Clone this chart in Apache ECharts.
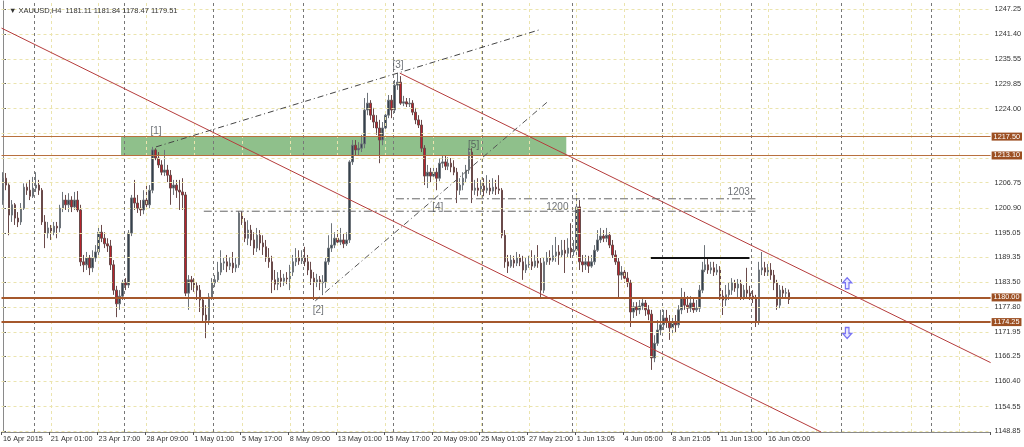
<!DOCTYPE html>
<html><head><meta charset="utf-8">
<script src="https://cdn.jsdelivr.net/npm/echarts@6/dist/echarts.min.js"></script>
<style>html,body{margin:0;padding:0;background:#fff}#c{width:1024px;height:447px}</style>
</head><body><div id="c"></div>
<script>
const opens = [
1202.7,1207.8,1206.2,1199.2,1201.6,1198.5,1197.6,1200.8,1205.7,1205.0,
1203.6,1205.5,1206.2,1205.0,1197.6,1195.0,1196.2,1195.2,1196.6,1196.2,
1200.8,1202.7,1201.6,1202.7,1201.1,1202.7,1200.4,1188.3,1187.6,1189.2,
1186.9,1189.2,1190.6,1195.2,1193.8,1192.5,1192.0,1187.6,1181.7,1178.5,
1180.3,1183.4,1182.9,1195.0,1203.2,1202.0,1200.8,1200.4,1202.7,1201.6,
1205.0,1214.4,1212.5,1210.9,1209.2,1209.7,1208.5,1205.5,1206.2,1205.0,
1204.6,1203.9,1181.0,1184.1,1183.6,1182.7,1181.7,1179.4,1175.9,1174.7,
1180.1,1183.4,1184.1,1185.9,1188.0,1188.3,1187.3,1188.0,1186.9,1187.6,
1199.7,1197.6,1193.8,1195.7,1193.4,1191.5,1194.5,1192.7,1191.8,1189.2,
1188.3,1184.1,1183.1,1184.5,1183.8,1184.5,1184.3,1185.9,1188.3,1189.2,
1188.5,1189.2,1188.3,1186.4,1184.5,1183.6,1184.1,1183.4,1183.6,1188.3,
1191.5,1192.2,1193.8,1192.9,1193.4,1192.5,1193.4,1211.6,1215.5,1214.4,
1214.8,1215.8,1223.7,1225.3,1222.5,1220.9,1219.5,1216.7,1219.5,1222.5,
1226.0,1223.7,1229.5,1230.2,1225.3,1225.6,1225.1,1225.3,1223.2,1221.4,
1220.2,1214.8,1208.3,1209.2,1208.3,1209.2,1207.8,1211.3,1211.6,1210.6,
1211.3,1210.4,1209.2,1205.0,1206.2,1207.8,1209.7,1213.9,1205.0,1205.5,
1205.0,1206.0,1205.0,1205.5,1204.8,1205.7,1205.3,1205.0,1194.5,1188.3,
1187.3,1188.7,1188.0,1189.2,1188.3,1186.4,1187.6,1188.3,1187.3,1188.5,
1188.0,1181.7,1188.3,1189.2,1188.7,1189.7,1190.6,1189.9,1191.0,1190.3,
1191.5,1190.6,1191.0,1201.1,1188.3,1187.6,1188.3,1187.3,1188.3,1191.0,
1193.4,1194.3,1193.8,1194.5,1192.2,1189.9,1188.3,1185.2,1185.9,1184.5,
1183.4,1176.6,1177.8,1177.1,1178.0,1178.7,1177.1,1176.1,1165.9,1169.3,
1172.4,1173.6,1175.2,1174.3,1172.9,1174.3,1173.6,1177.1,1179.9,1178.2,
1177.5,1178.7,1177.1,1177.5,1181.7,1186.4,1187.6,1186.4,1186.9,1185.9,
1186.4,1180.3,1179.4,1180.6,1181.7,1183.4,1182.2,1183.1,1180.1,1181.7,
1181.0,1180.3,1179.9,1174.3,1186.4,1186.9,1185.9,1186.4,1185.2,1183.4,
1178.2,1181.7,1181.0,1181.11];
const closes = [
1207.8,1206.2,1199.2,1201.6,1198.5,1197.6,1200.8,1205.7,1205.0,1203.6,
1205.5,1206.2,1205.0,1197.6,1195.0,1196.2,1195.2,1196.6,1196.2,1200.8,
1202.7,1201.6,1202.7,1201.1,1202.7,1200.4,1188.3,1187.6,1189.2,1186.9,
1189.2,1190.6,1195.2,1193.8,1192.5,1192.0,1187.6,1181.7,1178.5,1180.3,
1183.4,1182.9,1195.0,1203.2,1202.0,1200.8,1200.4,1202.7,1201.6,1205.0,
1214.4,1212.5,1210.9,1209.2,1209.7,1208.5,1205.5,1206.2,1205.0,1204.6,
1203.9,1181.0,1184.1,1183.6,1182.7,1181.7,1179.4,1175.9,1174.7,1180.1,
1183.4,1184.1,1185.9,1188.0,1188.3,1187.3,1188.0,1186.9,1187.6,1199.7,
1197.6,1193.8,1195.7,1193.4,1191.5,1194.5,1192.7,1191.8,1189.2,1188.3,
1184.1,1183.1,1184.5,1183.8,1184.5,1184.3,1185.9,1188.3,1189.2,1188.5,
1189.2,1188.3,1186.4,1184.5,1183.6,1184.1,1183.4,1183.6,1188.3,1191.5,
1192.2,1193.8,1192.9,1193.4,1192.5,1193.4,1211.6,1215.5,1214.4,1214.8,
1215.8,1223.7,1225.3,1222.5,1220.9,1219.5,1216.7,1219.5,1222.5,1226.0,
1223.7,1229.5,1230.2,1225.3,1225.6,1225.1,1225.3,1223.2,1221.4,1220.2,
1214.8,1208.3,1209.2,1208.3,1209.2,1207.8,1211.3,1211.6,1210.6,1211.3,
1210.4,1209.2,1205.0,1206.2,1207.8,1209.7,1213.9,1205.0,1205.5,1205.0,
1206.0,1205.0,1205.5,1204.8,1205.7,1205.3,1205.0,1194.5,1188.3,1187.3,
1188.7,1188.0,1189.2,1188.3,1186.4,1187.6,1188.3,1187.3,1188.5,1188.0,
1181.7,1188.3,1189.2,1188.7,1189.7,1190.6,1189.9,1191.0,1190.3,1191.5,
1190.6,1191.0,1201.1,1188.3,1187.6,1188.3,1187.3,1188.3,1191.0,1193.4,
1194.3,1193.8,1194.5,1192.2,1189.9,1188.3,1185.2,1185.9,1184.5,1183.4,
1176.6,1177.8,1177.1,1178.0,1178.7,1177.1,1176.1,1165.9,1169.3,1172.4,
1173.6,1175.2,1174.3,1172.9,1174.3,1173.6,1177.1,1179.9,1178.2,1177.5,
1178.7,1177.1,1177.5,1181.7,1186.4,1187.6,1186.4,1186.9,1185.9,1186.4,
1180.3,1179.4,1180.6,1181.7,1183.4,1182.2,1183.1,1180.1,1181.7,1181.0,
1180.3,1179.9,1174.3,1186.4,1186.9,1185.9,1186.4,1185.2,1183.4,1178.2,
1181.7,1181.0,1181.1,1179.51];
const lows = [
1201.6,1205.0,1194.5,1197.6,1196.9,1196.4,1196.9,1200.4,1203.9,1202.7,
1203.2,1204.6,1203.9,1196.9,1191.5,1193.8,1193.4,1194.5,1193.8,1195.2,
1199.9,1200.4,1199.9,1199.9,1200.4,1199.9,1187.3,1185.9,1186.4,1185.2,
1185.9,1188.3,1189.9,1192.9,1191.5,1190.6,1186.4,1180.6,1175.4,1177.1,
1179.4,1181.7,1182.2,1194.3,1200.4,1199.7,1199.0,1199.4,1200.4,1200.8,
1204.3,1212.0,1210.2,1208.5,1208.3,1206.9,1201.6,1203.9,1203.2,1200.4,
1200.4,1180.3,1177.1,1181.7,1181.3,1179.4,1176.6,1174.3,1170.5,1173.6,
1179.4,1182.4,1183.6,1185.2,1186.4,1185.9,1186.4,1185.7,1185.9,1186.9,
1196.9,1192.9,1192.2,1192.0,1189.9,1190.6,1191.0,1189.9,1188.3,1186.9,
1181.0,1181.7,1181.7,1182.4,1182.7,1183.1,1181.7,1185.0,1187.3,1187.6,
1187.8,1187.3,1185.2,1182.9,1179.4,1182.4,1181.7,1180.6,1182.2,1187.6,
1190.6,1191.5,1192.0,1192.2,1191.5,1192.0,1192.7,1210.9,1213.0,1213.0,
1213.9,1214.8,1222.5,1221.4,1219.5,1217.9,1211.3,1215.5,1218.6,1221.8,
1221.8,1223.0,1228.4,1224.9,1224.6,1224.4,1224.4,1222.5,1220.4,1219.5,
1213.9,1206.2,1205.5,1206.9,1207.4,1205.0,1207.1,1210.2,1209.7,1209.7,
1209.2,1208.5,1202.0,1203.9,1205.0,1206.9,1208.8,1202.0,1203.9,1203.6,
1203.9,1203.6,1204.3,1203.9,1204.1,1203.9,1204.1,1193.8,1186.9,1185.7,
1186.9,1186.9,1187.3,1187.3,1184.1,1185.7,1186.9,1186.4,1186.9,1186.9,
1180.1,1181.0,1187.6,1187.6,1188.3,1188.3,1187.6,1189.2,1185.7,1189.2,
1189.2,1189.7,1189.2,1186.4,1185.9,1186.4,1185.7,1186.9,1187.6,1190.6,
1192.7,1192.9,1192.9,1191.5,1189.2,1187.6,1180.1,1184.1,1183.4,1182.4,
1173.1,1175.2,1175.7,1176.1,1177.1,1175.7,1174.7,1163.1,1164.9,1168.7,
1171.2,1172.4,1172.9,1170.1,1171.5,1171.9,1172.9,1176.1,1177.1,1176.4,
1176.6,1176.4,1176.6,1176.6,1181.0,1185.9,1185.5,1185.5,1185.0,1185.2,
1179.4,1175.9,1178.0,1179.4,1180.6,1181.3,1180.1,1179.4,1179.4,1179.9,
1179.4,1178.7,1173.1,1173.6,1185.2,1185.0,1185.0,1184.1,1181.7,1177.1,
1177.5,1179.9,1179.9,1178.47];
const highs = [
1209.2,1209.0,1206.6,1202.7,1202.0,1199.9,1202.0,1206.6,1206.6,1207.4,
1208.1,1209.2,1207.4,1205.5,1199.2,1197.6,1196.9,1197.6,1197.6,1201.6,
1204.6,1203.9,1204.3,1203.6,1204.6,1204.8,1201.6,1189.9,1190.6,1189.9,
1191.0,1192.2,1196.2,1196.9,1195.2,1193.8,1193.4,1188.7,1182.7,1181.7,
1184.1,1184.5,1195.7,1203.9,1207.4,1203.9,1202.7,1205.0,1206.9,1206.2,
1215.1,1214.8,1213.9,1212.0,1214.4,1210.9,1209.7,1207.4,1207.4,1207.4,
1207.8,1204.6,1185.2,1185.0,1184.5,1183.6,1182.9,1180.1,1178.2,1181.0,
1184.5,1185.2,1188.3,1191.0,1189.2,1189.9,1189.4,1190.6,1189.2,1200.1,
1200.1,1198.5,1198.0,1196.9,1195.2,1196.2,1195.7,1194.5,1193.4,1191.5,
1189.7,1186.4,1185.9,1186.4,1185.5,1185.9,1187.6,1189.9,1191.5,1191.0,
1191.0,1191.8,1189.9,1188.3,1185.9,1185.5,1185.0,1185.2,1189.2,1194.5,
1197.3,1195.2,1195.7,1196.2,1194.8,1195.2,1212.0,1216.7,1216.7,1216.2,
1217.9,1226.5,1227.7,1226.0,1224.2,1222.5,1221.4,1220.9,1223.2,1227.2,
1227.2,1230.7,1232.3,1231.6,1227.0,1226.5,1226.5,1226.0,1224.2,1222.5,
1221.4,1215.5,1210.9,1210.2,1210.9,1210.2,1212.5,1213.2,1213.0,1212.7,
1212.5,1212.0,1210.2,1207.8,1209.2,1210.9,1214.8,1214.8,1207.4,1207.8,
1207.4,1207.8,1208.5,1207.4,1207.8,1207.4,1208.5,1205.5,1195.7,1189.9,
1189.9,1189.7,1190.6,1190.1,1189.7,1189.2,1189.7,1191.0,1189.9,1192.2,
1189.2,1189.2,1190.6,1191.0,1192.2,1194.1,1192.2,1193.4,1193.4,1193.8,
1197.3,1193.4,1204.3,1202.7,1189.9,1189.9,1189.7,1189.9,1192.2,1195.7,
1196.2,1195.7,1196.2,1195.2,1193.4,1191.0,1189.2,1187.3,1186.9,1185.9,
1184.1,1178.9,1178.9,1179.4,1179.9,1179.4,1178.2,1177.1,1171.2,1174.7,
1177.1,1177.1,1177.1,1175.9,1175.7,1175.9,1178.2,1182.2,1181.3,1180.3,
1180.3,1179.9,1179.4,1182.9,1188.3,1192.2,1189.2,1188.3,1188.3,1187.8,
1187.3,1181.7,1182.9,1183.4,1184.5,1184.1,1184.3,1184.1,1182.9,1186.9,
1182.7,1181.7,1180.6,1188.3,1190.6,1188.3,1187.8,1188.0,1186.4,1184.1,
1182.9,1182.7,1182.2,1181.84];

const slotCount = 331;
const xTickIdx = [0,16,32,48,64,80,96,112,128,144,160,176,192,208,224,240,256];
const xTickLabels = ['16 Apr 2015','21 Apr 01:00','23 Apr 17:00','28 Apr 09:00','1 May 01:00','5 May 17:00','8 May 09:00','13 May 01:00','15 May 17:00','20 May 09:00','25 May 01:05','27 May 21:00','1 Jun 13:05','4 Jun 05:00','8 Jun 21:05','11 Jun 13:00','16 Jun 05:00'];
const yTicks = [1247.25,1241.40,1235.55,1229.85,1224.00,1206.75,1200.90,1195.05,1189.35,1183.50,1177.80,1171.95,1166.25,1160.40,1154.55,1148.85];
const yGridExtra = [1218.30,1212.45];
const xGridIdx = [16,32,48,64,80,96,112,128,144,160,176,192,208,224,240,256,272,288,304,320];
const weekSep = [10.5,40.5,70.5,100.5,130.5,160.5,190.5,220.5,250.5,280.5,310.5];

const levelsThin = [1217.50, 1213.10];
const levelsThick = [1180.00, 1174.25];
const zoneBox = [[39.5, 1217.5], [188.5, 1213.1]];

const channelUpper = [[132.8, 1232.3], [330.5, 1164.8]];
const channelLower = [[-0.5, 1242.8], [273.8, 1148.6]];
const wave13Line = [[51.2, 1215.1], [179.5, 1242.4]];
const wave24Line = [[104.5, 1179.2], [182.2, 1225.6]];
const level1200 = [[67.2, 1200.1], [251.8, 1200.1]];
const level1203 = [[131.5, 1203.0], [251.8, 1203.0]];
const resistLine = [[216.8, 1189.2], [249.8, 1189.2]];

const waveLabels = [[51.2,1218.7,'[1]'],[105.5,1177.1,'[2]'],[132.2,1234.2,'[3]'],[145.5,1201.1,'[4]'],[157.5,1215.5,'[5]'],[185.5,1201.0,'1200'],[246.2,1204.6,'1203']];
const arrowUp = [[282.5, 1183.3]];
const arrowDown = [[282.5, 1171.7]];

const titleText = '▼ XAUUSD,H4  1181.11 1181.84 1178.47 1179.51';

const cats = Array.from({length: slotCount}, (_, i) => i);
const candles = opens.map((o, i) => [o, closes[i], lows[i], highs[i]]);
const tickSet = new Set(xTickIdx);
const FONT = 'Liberation Sans';
const UP_PATH = 'path://M5,0 L10,5 L7,5 L7,11 L3,11 L3,5 L0,5 Z';
const DOWN_PATH = 'path://M5,11 L10,6 L7,6 L7,0 L3,0 L3,6 L0,6 Z';

const chart = echarts.init(document.getElementById('c'), null, {renderer: 'canvas'});

function seg(data, color, width, type, z) {
  return {type: 'line', xAxisIndex: 1, yAxisIndex: 0, data: data, symbol: 'none', silent: true,
    lineStyle: {color: color, width: width, type: type}, z: z || 5, clip: true, animation: false};
}
function arrow(data, path) {
  return {type: 'scatter', xAxisIndex: 1, data: data, symbol: path, symbolSize: [9, 11], silent: true, z: 6,
    itemStyle: {color: '#e4e2ff', borderColor: '#5b55f0', borderWidth: 1.3}};
}

const gridLines = [];
yTicks.concat(yGridExtra).forEach(v => gridLines.push({yAxis: v, lineStyle: {color: '#ebe4ae', type: [3, 3], width: 1}}));
xGridIdx.forEach(v => gridLines.push({xAxis: v, lineStyle: {color: '#ebe4ae', type: [3, 3], width: 1}}));
weekSep.forEach(v => gridLines.push({xAxis: v, lineStyle: {color: '#777', type: [3, 3], width: 1}}));

const levelLines = [];
levelsThin.forEach(v => levelLines.push({yAxis: v, lineStyle: {color: '#b8703e', width: 1, type: 'solid'},
  label: {formatter: v.toFixed(2)}}));
levelsThick.forEach(v => levelLines.push({yAxis: v, lineStyle: {color: '#a5582c', width: 2, type: 'solid'},
  label: {formatter: v.toFixed(2)}}));

const option = {
  animation: false,
  backgroundColor: '#ffffff',
  title: {text: titleText, left: 4, top: 2, textStyle: {fontSize: 7.5, fontWeight: 'normal', color: '#333', fontFamily: FONT}},
  grid: {left: 0, right: 31, top: 1, bottom: 15, show: false},
  xAxis: [
    {type: 'category', data: cats, boundaryGap: true,
      axisLine: {show: true, lineStyle: {color: '#8a8a8a', width: 1}},
      axisTick: {show: true, interval: (i) => tickSet.has(i), length: 3, lineStyle: {color: '#555'}},
      axisLabel: {interval: (i) => tickSet.has(i), formatter: (v, i) => xTickLabels[xTickIdx.indexOf(Number(v))] || '',
        align: 'left', fontSize: 7.3, color: '#333', margin: 3, fontFamily: FONT},
      splitLine: {show: false}},
    {type: 'value', min: -0.5, max: slotCount - 0.5, show: false}
  ],
  yAxis: {type: 'value', position: 'right', min: 1148.62, max: 1249.12, scale: true,
    axisLine: {show: true, lineStyle: {color: '#8a8a8a', width: 1}},
    axisTick: {show: true, customValues: yTicks, length: 3, lineStyle: {color: '#555'}},
    axisLabel: {customValues: yTicks, formatter: (v) => Number(v).toFixed(2), fontSize: 7.3, color: '#333', margin: 4, fontFamily: FONT},
    splitLine: {show: false}},
  series: [
    {type: 'line', xAxisIndex: 1, data: [], symbol: 'none', silent: true, z: 1,
      markLine: {silent: true, symbol: 'none', animation: false, label: {show: false}, data: gridLines},
      markArea: {silent: true, animation: false, itemStyle: {color: '#8fc08b'},
        data: [[{coord: zoneBox[0]}, {coord: zoneBox[1]}]]}},
    {type: 'line', xAxisIndex: 1, data: [], symbol: 'none', silent: true, z: 3,
      markLine: {silent: true, symbol: 'none', animation: false,
        label: {show: true, position: 'end', distance: 1, color: '#fff', backgroundColor: '#9c4f22',
          padding: [1, 2, 0, 2], fontSize: 7.3, fontFamily: FONT},
        data: levelLines}},
    {type: 'candlestick', xAxisIndex: 0, yAxisIndex: 0, data: candles, barWidth: 2, z: 4,
      itemStyle: {color: '#35414d', color0: '#b8232c', borderColor: '#6e747a', borderColor0: '#6a4a4a', borderWidth: 1}},
    seg(channelUpper, '#b53c3c', 1, 'solid'),
    seg(channelLower, '#b53c3c', 1, 'solid'),
    seg(wave13Line, '#444', 1, [6, 3, 1, 3]),
    seg(wave24Line, '#555', 1, [6, 3, 1, 3]),
    seg(level1200, '#666', 1, [8, 3, 2, 3]),
    seg(level1203, '#666', 1, [8, 3, 2, 3]),
    seg(resistLine, '#111', 2, 'solid'),
    {type: 'scatter', xAxisIndex: 1, data: waveLabels, symbolSize: 0, silent: true, z: 6,
      label: {show: true, position: 'inside', formatter: (p) => p.value[2], color: '#4a4f55', fontSize: 10, fontFamily: FONT}},
    arrow(arrowUp, UP_PATH),
    arrow(arrowDown, DOWN_PATH)
  ]
};
chart.setOption(option);
</script></body></html>
